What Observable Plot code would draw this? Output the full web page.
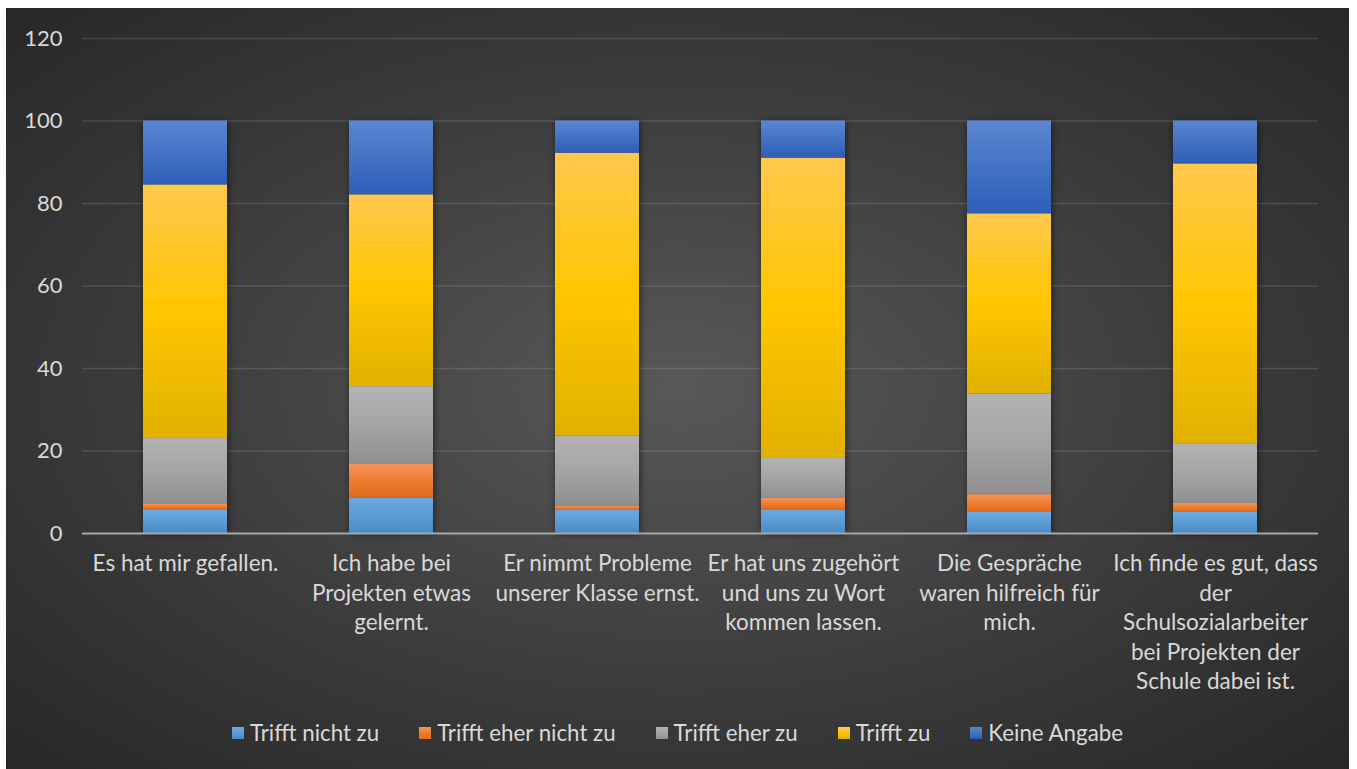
<!DOCTYPE html>
<html>
<head>
<meta charset="utf-8">
<script src="https://cdn.jsdelivr.net/npm/d3@7"></script>
<script src="https://cdn.jsdelivr.net/npm/@observablehq/plot@0.6"></script>
<style>
  html, body { margin: 0; padding: 0; background: #ffffff; }
  #frame {
    position: absolute; left: 6px; top: 8px; width: 1343px; height: 761px;
    background: radial-gradient(ellipse at 50% 50%, #585858 0%, #3c3c3c 55%, #272727 100%);
    overflow: hidden;
    font-family: Lato, "Open Sans", sans-serif;
    color: #d9d9d9;
  }
  #chart { position: absolute; left: 0; top: 0; }
  #legend {
    position: absolute; left: 0; width: 1343px; top: 712px;
    display: flex; justify-content: center; gap: 40px;
    font-size: 22.3px; line-height: 26px; color: #d9d9d9;
  }
  #legend .item { display: flex; align-items: center; }
  #legend .sw { width: 12px; height: 12px; margin-right: 6px; }
</style>
</head>
<body>
<svg width="0" height="0" style="position:absolute">
  <defs id="defs"></defs>
</svg>
<div id="frame">
  <div id="chart"></div>
  <div id="legend"></div>
</div>
<script>
const categories = [
  "Es hat mir gefallen.",
  "Ich habe bei Projekten etwas gelernt.",
  "Er nimmt Probleme unserer Klasse ernst.",
  "Er hat uns zugehört und uns zu Wort kommen lassen.",
  "Die Gespräche waren hilfreich für mich.",
  "Ich finde es gut, dass der Schulsozialarbeiter bei Projekten der Schule dabei ist."
];
const tickLabels = [
  "Es hat mir gefallen.",
  "Ich habe bei\nProjekten etwas\ngelernt.",
  "Er nimmt Probleme\nunserer Klasse ernst.",
  "Er hat uns zugehört\nund uns zu Wort\nkommen lassen.",
  "Die Gespräche\nwaren hilfreich für\nmich.",
  "Ich finde es gut, dass\nder\nSchulsozialarbeiter\nbei Projekten der\nSchule dabei ist."
];
const series = ["Trifft nicht zu", "Trifft eher nicht zu", "Trifft eher zu", "Trifft zu", "Keine Angabe"];
const trifftNichtZu     = [5.6, 8.5, 5.6, 5.6, 5.1, 5.1];
const trifftEherNichtZu = [1.6, 8.4, 1.1, 2.9, 4.3, 2.2];
const trifftEherZu      = [15.8, 18.7, 16.9, 9.7, 24.4, 14.3];
const trifftZu          = [61.5, 46.5, 68.6, 72.8, 43.7, 68.0];
const keineAngabe       = [15.5, 17.9, 7.8, 9.0, 22.5, 10.4];
const yTicks = [0, 20, 40, 60, 80, 100, 120];

// gradient stops per series (top, middle, bottom)
const gradStops = [
  ["#6ea9e1", "#5b9bd5", "#4a8acb"],
  ["#f4955a", "#ed7d31", "#e2691c"],
  ["#b3b3b3", "#a5a5a5", "#8f8f8f"],
  ["#ffc84d", "#ffc600", "#e0b100"],
  ["#5c86d1", "#4472c4", "#2d5eb8"]
];

const defs = document.getElementById("defs");
let defsHtml = "";
gradStops.forEach((s, i) => {
  defsHtml += `<linearGradient id="grad${i}" x1="0" y1="0" x2="0" y2="1">
    <stop offset="0" stop-color="${s[0]}"/><stop offset="0.5" stop-color="${s[1]}"/><stop offset="1" stop-color="${s[2]}"/>
  </linearGradient>`;
});
defsHtml += `<filter id="shadow" x="-30%" y="-10%" width="160%" height="120%">
  <feDropShadow dx="1" dy="1" stdDeviation="3.5" flood-color="#000" flood-opacity="0.55"/>
</filter>`;
defs.innerHTML = defsHtml;

const valuesBySeries = [trifftNichtZu, trifftEherNichtZu, trifftEherZu, trifftZu, keineAngabe];
const data = [];
categories.forEach((c, ci) => {
  series.forEach((s, si) => {
    data.push({category: c, series: s, value: valuesBySeries[si][ci]});
  });
});
const labelRows = categories.map((c, i) => ({category: c, label: tickLabels[i]}));

const chart = Plot.plot({
  width: 1343,
  height: 700,
  marginLeft: 76,
  marginRight: 31,
  marginTop: 30,
  marginBottom: 175,
  style: {background: "transparent", color: "#d9d9d9", fontFamily: "Lato, 'Open Sans', sans-serif", fontSize: "22px"},
  x: {domain: categories, paddingInner: 0.59, paddingOuter: 0.295, axis: null},
  y: {domain: [0, 120], ticks: yTicks, tickSize: 0, tickPadding: 20, label: null, tickFormat: d => String(d)},
  color: {domain: series, range: series.map((_, i) => `url(#grad${i})`)},
  marks: [
    Plot.ruleY(yTicks.filter(d => d > 0), {stroke: "#ffffff", strokeOpacity: 0.13, strokeWidth: 1.5}),
    Plot.barY(data, {x: "category", y: "value", fill: "series"}),
    Plot.ruleY([0], {stroke: "#a8a8a8", strokeWidth: 2}),
    Plot.text(labelRows, {x: "category", y: () => 0, text: "label", dy: 17, lineAnchor: "top", lineHeight: 1.31, fill: "#d9d9d9", fontSize: 22.5})
  ]
});
document.getElementById("chart").appendChild(chart);
const barG = chart.querySelector('g[aria-label="bar"]');
if (barG) barG.setAttribute("filter", "url(#shadow)");

const legend = document.getElementById("legend");
series.forEach((s, i) => {
  const it = document.createElement("div");
  it.className = "item";
  const sw = document.createElement("span");
  sw.className = "sw";
  sw.style.background = `linear-gradient(${gradStops[i][0]}, ${gradStops[i][1]}, ${gradStops[i][2]})`;
  const t = document.createElement("span");
  t.textContent = s;
  it.appendChild(sw); it.appendChild(t);
  legend.appendChild(it);
});
</script>
</body>
</html>
